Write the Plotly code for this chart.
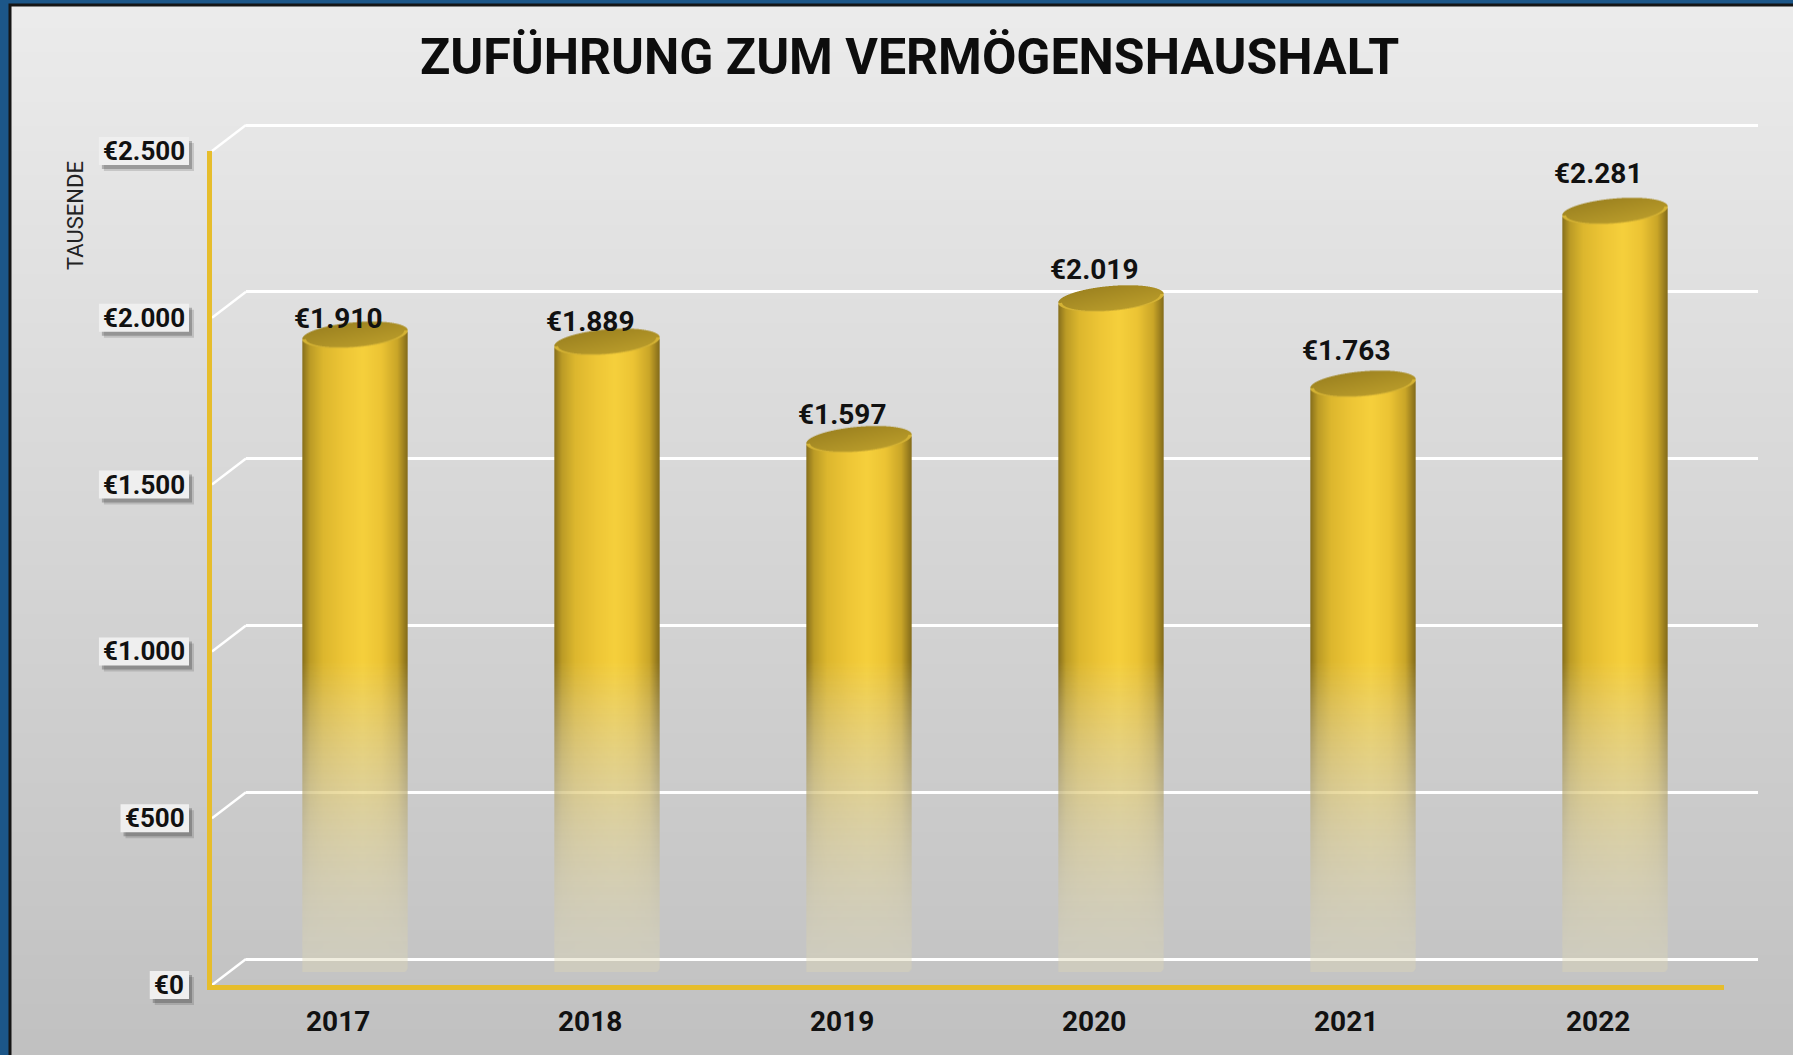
import base64
import struct
import zlib

import numpy as np
import plotly.graph_objects as go

# ---------------- data ----------------
years = ["2017", "2018", "2019", "2020", "2021", "2022"]
values = [1910, 1889, 1597, 2019, 1763, 2281]
tick_values = [0, 500, 1000, 1500, 2000, 2500]
tick_labels = ["€0", "€500", "€1.000", "€1.500", "€2.000", "€2.500"]
title_text = "ZUFÜHRUNG ZUM VERMÖGENSHAUSHALT"
axis_title = "TAUSENDE"


def euro(v):
    return "€" + f"{v:,}".replace(",", ".")


# ---------------- geometry (pixels) ----------------
FW, FH = 1793, 1055
YMAX = 2500
K = 834 / YMAX            # px per value unit
PX_CAT = 252.0            # px per category
DEPTH_X, DEPTH_Y = 17, 13  # half depth offset of the 3d box

FRONT_X0, FRONT_Y0 = 212, 985
MID_X0, MID_Y0 = FRONT_X0 + DEPTH_X, FRONT_Y0 - DEPTH_Y
BACK_X0, BACK_Y0 = FRONT_X0 + 2 * DEPTH_X, FRONT_Y0 - 2 * DEPTH_Y
PLOT_W = 6 * PX_CAT
PLOT_H = YMAX * K
BACK_EXTRA = 100  # value units of head room on the back wall so the top grid line shows


def xdom(x0):
    return [x0 / FW, (x0 + PLOT_W) / FW]


def ydom(y0, extra=0.0):
    return [(FH - y0) / FH, (FH - y0 + PLOT_H + extra) / FH]


def px(x):
    return x / FW


def py(y):
    return 1 - y / FH


# ---------------- png helper ----------------
def png_uri(arr):
    arr = np.ascontiguousarray(arr.astype(np.uint8))
    h, w, ch = arr.shape
    raw = b"".join(b"\x00" + arr[r].tobytes() for r in range(h))

    def chunk(t, d):
        c = struct.pack(">I", len(d)) + t + d
        return c + struct.pack(">I", zlib.crc32(t + d) & 0xFFFFFFFF)

    ctype = 6 if ch == 4 else 2
    png = (b"\x89PNG\r\n\x1a\n"
           + chunk(b"IHDR", struct.pack(">IIBBBBB", w, h, 8, ctype, 0, 0, 0))
           + chunk(b"IDAT", zlib.compress(raw, 9))
           + chunk(b"IEND", b""))
    return "data:image/png;base64," + base64.b64encode(png).decode()


# background gradient
g = np.linspace(0, 1, 256)
top_c = np.array([236, 236, 236])
bot_c = np.array([193, 193, 193])
bg = (top_c[None, :] * (1 - g[:, None]) + bot_c[None, :] * g[:, None])
bg_img = np.repeat(bg[:, None, :], 2, axis=1)
bg_uri = png_uri(bg_img)

# cylinder images
BAR_W = 106
A = BAR_W / 2
B = 12.5
TH = np.radians(5)
SS = 3
PAD = 3

s_stops = [-1.0, -0.85, -0.6, -0.2, 0.15, 0.5, 0.8, 1.0]
col_stops = np.array([
    [134, 110, 28],
    [188, 156, 38],
    [221, 183, 46],
    [238, 198, 54],
    [246, 208, 60],
    [236, 196, 52],
    [202, 166, 40],
    [130, 106, 26],
], dtype=float)
PALE = np.array([220, 214, 182], dtype=float)


def cylinder(value):
    body = value * K
    top = B + 6
    bot = B + 3
    H = int(np.ceil(top + body + bot))
    W = BAR_W + 2 * PAD
    ys = (np.arange(H * SS) + 0.5) / SS - top
    xs = (np.arange(W * SS) + 0.5) / SS - W / 2
    X, Y = np.meshgrid(xs, ys)
    c, s = np.cos(TH), np.sin(TH)
    tn = np.tan(TH)
    U = X * c - Y * s
    V = X * s + Y * c
    r_top = (U / A) ** 2 + (V / B) ** 2
    in_top = r_top <= 1
    Yb = Y - body
    Ub = X * c - Yb * s
    Vb = X * s + Yb * c
    in_bot = (Ub / A) ** 2 + (Vb / B) ** 2 <= 1
    xe = np.sqrt(A ** 2 * c ** 2 + B ** 2 * s ** 2)
    in_body = (np.abs(X) <= xe) & (Y >= -X * tn) & (Y <= body - X * tn)
    mask = in_body | in_top | in_bot

    sn = np.clip(X / xe, -1, 1)
    col = np.stack([np.interp(sn, s_stops, col_stops[:, k]) for k in range(3)], axis=-1)
    # vertical fade towards the floor
    val_at = (body - Y) / K
    f = np.clip(val_at / 930.0, 0, 1)
    gf = f ** 1.4
    col = PALE + (col - PALE) * gf[..., None]
    alpha = 0.42 + 0.58 * gf
    # top ellipse
    t = np.clip((V / B + 1) / 2, 0, 1)
    back = np.array([166, 138, 34], float)
    front = np.array([190, 160, 44], float)
    tcol = back + (front - back) * t[..., None]
    tcol = tcol * (0.93 + 0.07 * np.clip((U / A + 1) / 2, 0, 1))[..., None]
    rim = (r_top > 0.86) & (V > 0)
    tcol[rim] = np.array([212, 178, 52], float)
    col = np.where(in_top[..., None], tcol, col)
    alpha = np.where(in_top, 1.0, alpha)
    alpha = alpha * mask

    pre = col * alpha[..., None]
    pre = pre.reshape(H, SS, W, SS, 3).mean(axis=(1, 3))
    al = alpha.reshape(H, SS, W, SS).mean(axis=(1, 3))
    out = np.zeros((H, W, 4))
    nz = al > 0
    out[nz, :3] = pre[nz] / al[nz, None]
    out[..., 3] = al * 255
    return png_uri(np.clip(out, 0, 255)), W, H, top


images = [dict(source=bg_uri, xref="paper", yref="paper",
               x=px(10), y=py(5), sizex=1 - px(10), sizey=py(5),
               xanchor="left", yanchor="top", sizing="stretch", layer="below")]

for i, v in enumerate(values):
    uri, W, H, top = cylinder(v)
    images.append(dict(source=uri, xref="x2", yref="y2",
                       x=i - (W / 2) / PX_CAT, y=v + top / K,
                       sizex=W / PX_CAT, sizey=H / K,
                       xanchor="left", yanchor="top", sizing="stretch", layer="above"))

fig = go.Figure()

fig.add_trace(go.Scatter(x=[None], y=[None], xaxis="x", yaxis="y", showlegend=False, hoverinfo="skip"))
fig.add_trace(go.Bar(x=list(range(len(years))), y=values, xaxis="x2", yaxis="y2",
                     width=BAR_W / PX_CAT, marker=dict(color="rgba(0,0,0,0)", line=dict(width=0)),
                     customdata=years, hovertemplate="%{customdata}: €%{y}<extra></extra>",
                     showlegend=False))
fig.add_trace(go.Scatter(x=[None], y=[None], xaxis="x3", yaxis="y3", showlegend=False, hoverinfo="skip"))

hidden = dict(showgrid=False, zeroline=False, showticklabels=False, ticks="", showline=False)
xr = [-0.5, len(years) - 0.5]
yr = [0, YMAX]

GOLD = "#e6bd2c"
FONT = "Roboto"

shapes = []
# panel dark edge
shapes.append(dict(type="path", xref="paper", yref="paper",
                   path=f"M {px(10)},0 L {px(10)},{py(5)} L 1,{py(5)}",
                   line=dict(color="#151515", width=3), layer="below"))
# diagonal connectors from front axis to back wall
for t in tick_values:
    yf = FRONT_Y0 - t * K
    yb = BACK_Y0 - t * K
    shapes.append(dict(type="line", xref="paper", yref="paper",
                       x0=px(FRONT_X0), y0=py(yf), x1=px(BACK_X0), y1=py(yb),
                       line=dict(color="white", width=2.5), layer="below"))


def text_w(s, size):
    w = 0.0
    for ch in s:
        w += 0.27 if ch in ".," else 0.562
    return w * size


annotations = []
annotations.append(dict(text=title_text, xref="paper", yref="paper", x=px(910), y=py(57),
                        xanchor="center", yanchor="middle", showarrow=False,
                        font=dict(family=FONT, size=50, color="#0d0d0d", weight=700)))
annotations.append(dict(text=axis_title, xref="paper", yref="paper", x=px(75), y=py(216),
                        xanchor="center", yanchor="middle", showarrow=False, textangle=-90,
                        font=dict(family=FONT, size=22, color="#222222")))

TICK_SIZE = 26
BOX_R = 189
for t, lab in zip(tick_values, tick_labels):
    w = text_w(lab, TICK_SIZE) + 10
    cy = FRONT_Y0 - t * K
    x0, x1 = BOX_R - w, BOX_R
    for dx, dy, a in [(5, 6, 0.16), (3, 4, 0.28)]:
        shapes.append(dict(type="rect", xref="paper", yref="paper",
                           x0=px(x0 + dx), x1=px(x1 + dx), y0=py(cy + 14 + dy), y1=py(cy - 14 + dy),
                           line=dict(width=0), fillcolor=f"rgba(40,40,40,{a})", layer="below"))
    shapes.append(dict(type="rect", xref="paper", yref="paper",
                       x0=px(x0), x1=px(x1), y0=py(cy + 14), y1=py(cy - 14),
                       line=dict(width=0), fillcolor="#efefef", layer="below"))
    annotations.append(dict(text=lab, xref="paper", yref="paper", x=px((x0 + x1) / 2), y=py(cy),
                            xanchor="center", yanchor="middle", showarrow=False,
                            font=dict(family=FONT, size=TICK_SIZE, color="#111111", weight=700)))

for i, (yrs, v) in enumerate(zip(years, values)):
    annotations.append(dict(text=yrs, xref="x3", yref="paper", x=i, y=py(1021),
                            xanchor="center", yanchor="middle", showarrow=False,
                            font=dict(family=FONT, size=28, color="#111111", weight=700)))
    annotations.append(dict(text=euro(v), xref="x3", yref="y2", x=i, y=v,
                            xanchor="center", yanchor="middle", showarrow=False,
                            yshift=16 + 4.4 * i,
                            font=dict(family=FONT, size=28, color="#111111", weight=700)))

fig.update_layout(
    width=FW, height=FH,
    margin=dict(l=0, r=0, t=0, b=0),
    paper_bgcolor="#1c5688",
    plot_bgcolor="rgba(0,0,0,0)",
    showlegend=False,
    barmode="overlay",
    xaxis=dict(domain=xdom(BACK_X0), range=xr, anchor="y", **hidden),
    yaxis=dict(domain=ydom(BACK_Y0, extra=BACK_EXTRA * K), range=[0, YMAX + BACK_EXTRA],
               anchor="x", showgrid=True, gridcolor="white", gridwidth=2.5, dtick=500, tick0=0,
               zeroline=True, zerolinecolor="white", zerolinewidth=2.5, showticklabels=False,
               ticks="", showline=False),
    xaxis2=dict(domain=xdom(MID_X0), range=xr, anchor="y2", **hidden),
    yaxis2=dict(domain=ydom(MID_Y0), range=yr, anchor="x2", **hidden),
    xaxis3=dict(domain=xdom(FRONT_X0), range=xr, anchor="y3", showgrid=False, zeroline=False,
                showticklabels=False, ticks="", showline=True, linecolor=GOLD, linewidth=5),
    yaxis3=dict(domain=ydom(FRONT_Y0), range=yr, anchor="x3", showgrid=False, zeroline=False,
                showticklabels=False, ticks="", showline=True, linecolor=GOLD, linewidth=5),
    images=images,
    shapes=shapes,
    annotations=annotations,
)

fig.write_html("out.html",
               config={"displayModeBar": False},
               post_script="document.body.style.margin='0';document.body.style.overflow='hidden';")
